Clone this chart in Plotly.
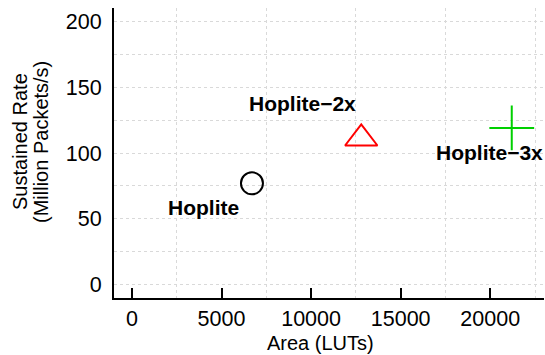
import plotly.graph_objects as go

# Data
names = ["Hoplite", "Hoplite−2x", "Hoplite−3x"]
area_luts = [6700, 12800, 21200]
rate_mpps = [77, 111, 119]
symbols = ["circle-open", "triangle-up-open", "cross-thin-open"]
colors = ["#000000", "#ff0000", "#00d000"]
sizes = [22, 28, 32]
# label offsets in pixels relative to each point
label_dx = [-48, -59, -22]
label_dy = [-24, 35, -25]

x_ticks = [0, 5000, 10000, 15000, 20000]
y_ticks = [0, 50, 100, 150, 200]

FONT = "Liberation Sans, Arial, sans-serif"

fig = go.Figure()
for i in range(len(names)):
    fig.add_trace(go.Scatter(
        x=[area_luts[i]], y=[rate_mpps[i]], mode="markers",
        marker=dict(symbol=symbols[i], size=sizes[i], color=colors[i],
                    line=dict(color=colors[i], width=2)),
        showlegend=False, hoverinfo="skip"))
    fig.add_annotation(x=area_luts[i], y=rate_mpps[i], text=names[i],
                       showarrow=False, xshift=label_dx[i], yshift=label_dy[i],
                       xanchor="center", yanchor="middle",
                       font=dict(family=FONT, size=21, color="black", weight="bold"))

grid_col = "#d9d9d9"
fig.update_xaxes(
    range=[-1000, 23000], tickvals=x_ticks, ticktext=[str(v) for v in x_ticks],
    showgrid=False, zeroline=False,
    showline=True, linecolor="black", linewidth=2,
    ticks="inside", ticklen=10, tickwidth=2, tickcolor="black",
    tickfont=dict(family=FONT, size=21.5, color="black"),
    minor=dict(tick0=2500, dtick=5000, showgrid=True, gridcolor=grid_col,
               griddash="dot", gridwidth=1, ticks=""),
)
fig.update_yaxes(
    range=[-10, 210], tickvals=y_ticks, ticktext=[str(v) for v in y_ticks],
    showgrid=True, gridcolor=grid_col, griddash="dot", gridwidth=1,
    zeroline=False,
    showline=True, linecolor="black", linewidth=2,
    ticks="", ticklabelstandoff=6,
    tickfont=dict(family=FONT, size=21.5, color="black"),
    minor=dict(dtick=25, tick0=0, showgrid=True, gridcolor=grid_col,
               griddash="dot", gridwidth=1, ticks=""),
)

# axis titles
fig.add_annotation(xref="paper", yref="paper", x=0.48, y=0, yshift=-45,
                   text="Area (LUTs)", showarrow=False, xanchor="center", yanchor="middle",
                   font=dict(family=FONT, size=20, color="black"))
fig.add_annotation(xref="paper", yref="paper", x=0, y=0.538, xshift=-94,
                   text="Sustained Rate", showarrow=False, textangle=-90,
                   xanchor="center", yanchor="middle",
                   font=dict(family=FONT, size=20, color="black"))
fig.add_annotation(xref="paper", yref="paper", x=0, y=0.538, xshift=-73,
                   text="(Million Packets/s)", showarrow=False, textangle=-90,
                   xanchor="center", yanchor="middle",
                   font=dict(family=FONT, size=20, color="black"))

fig.update_layout(
    width=545, height=355,
    margin=dict(l=114, r=1, t=8, b=57),
    plot_bgcolor="white", paper_bgcolor="white",
)
fig.write_html("out.html")
